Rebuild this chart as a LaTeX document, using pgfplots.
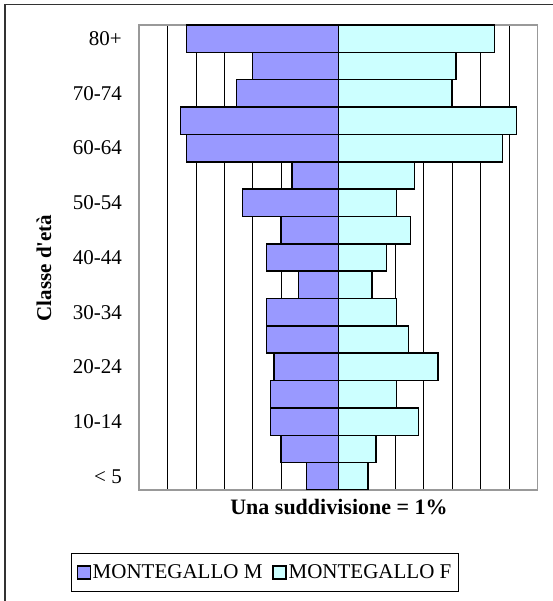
\documentclass[border=0pt]{standalone}
\usepackage{fontspec}
\setmainfont{Liberation Serif}
\usepackage{pgfplots}
\usepackage{pgfplotstable}
\pgfplotsset{compat=1.18}
\definecolor{maschi}{HTML}{9999FF}
\definecolor{femmine}{HTML}{CCFFFF}
\definecolor{cornice}{HTML}{999999}

% percentuali per classe d'eta (0 = <5 ... 16 = 80+)
\pgfplotstableread{
pos M    F
0   1.12 1.05
1   2.02 1.33
2   2.39 2.81
3   2.39 2.04
4   2.25 3.51
5   2.53 2.46
6   2.53 2.04
7   1.40 1.19
8   2.53 1.69
9   2.02 2.54
10  3.37 2.04
11  1.62 2.67
12  5.34 5.76
13  5.55 6.25
14  3.58 4.00
15  3.02 4.14
16  5.34 5.49
}\piramide

\begin{document}
\begin{tikzpicture}[x=1bp,y=1bp]
\useasboundingbox (0,0) rectangle (553,601);
% cornice esterna (solo lati visibili)
\draw[line width=1.5bp, black!80] (553,596.5) -- (5,596.5) -- (5,0);
\begin{axis}[
  at={(139bp,111bp)}, anchor=south west,
  scale only axis,
  width=398.6bp, height=465bp,
  xmin=-7, xmax=7,
  ymin=-0.5, ymax=16.5,
  xbar,
  bar width=27.35bp,
  bar shift=0pt,
  xtick={-6,...,6},
  xticklabels={},
  xmajorgrids,
  grid style={black, line width=0.8bp},
  major tick length=0pt,
  ytick={0,2,...,16},
  yticklabels={< 5,10-14,20-24,30-34,40-44,50-54,60-64,70-74,80+},
  yticklabel style={font=\fontsize{21bp}{24bp}\selectfont, inner sep=0pt, anchor=east, xshift=-17bp},
  axis line style={cornice, line width=1.5bp},
  legend style={
    at={(0.316,-0.1774)}, anchor=center,
    draw=black, line width=0.8bp,
    legend columns=2,
    font=\fontsize{21bp}{24bp}\selectfont,
    inner xsep=5bp, inner ysep=9bp,
    /tikz/every even column/.append style={column sep=8bp},
  },
  legend image code/.code={\draw[#1, line width=1.2bp] (0bp,-6.5bp) rectangle (13bp,6.5bp);},
]
\addplot[fill=maschi, draw=black, line width=1.5bp]
  table[y=pos, x expr=-\thisrow{M}] {\piramide};
\addplot[fill=femmine, draw=black, line width=1.5bp]
  table[y=pos, x=F] {\piramide};
\legend{MONTEGALLO M, MONTEGALLO F}
\end{axis}
\node[font=\bfseries\fontsize{21bp}{24bp}\selectfont, rotate=90] at (44,333) {Classe d\textquotesingle età};
\node[font=\bfseries\fontsize{22bp}{24bp}\selectfont] at (339,94) {Una suddivisione = 1\%};
\end{tikzpicture}
\end{document}
